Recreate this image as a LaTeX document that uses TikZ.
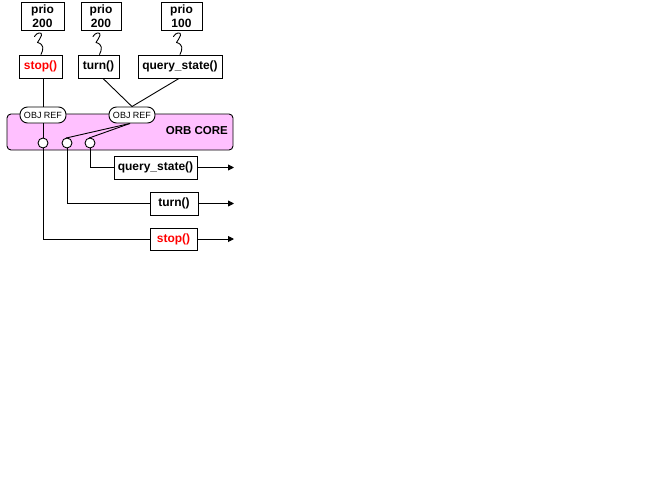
\documentclass[tikz,border=0pt]{standalone}
\usepackage{fontspec}
\setmainfont{Liberation Sans}
\usetikzlibrary{arrows.meta,calc}
\definecolor{orbpink}{RGB}{255,192,255}
\definecolor{callred}{RGB}{255,0,0}
\tikzset{
  base/.style={line width=0.9pt},
  box/.style={base,draw,fill=white,inner sep=0pt,font=\fontsize{12}{14}\selectfont\bfseries,align=center},
  prio/.style={box,minimum height=28pt},
  call/.style={box,minimum height=23pt},
  objref/.style={base,draw,fill=white,rounded corners=7.5pt,minimum width=46pt,minimum height=16pt,inner sep=0pt,font=\fontsize{9}{10}\selectfont},
  hole/.style={base,draw,fill=white,circle,minimum size=10pt,inner sep=0pt},
  wire/.style={base},
  outwire/.style={base,-{Triangle[length=6pt,width=6pt]}},
  squig/.style={base,line cap=round,line join=round},
}
\begin{document}
\begin{tikzpicture}[x=1pt,y=-1pt]
\useasboundingbox (0,0) rectangle (646,491);

% ORB core band
\node[base,draw,fill=orbpink,rounded corners=4pt,minimum width=226pt,minimum height=36pt,inner sep=0pt] (core) at (120,132) {};
\node[font=\fontsize{11.5}{13}\selectfont\bfseries,anchor=east,inner sep=0pt] (corelbl) at (228,131) {ORB CORE};

% priorities
\node[prio,minimum width=43pt] (p1) at (42.5,16) {prio\\200};
\node[prio,minimum width=40pt] (p2) at (101,16) {prio\\200};
\node[prio,minimum width=41pt] (p3) at (181.5,16) {prio\\100};

% client-side calls
\node[call,minimum width=43pt,text=callred] (m1) at (40.5,66.5) {stop()};
\node[call,minimum width=41pt] (m2) at (98.5,66.5) {turn()};
\node[call,minimum width=84pt] (m3) at (180,66.5) {query\_state()};

% squiggles linking priorities to calls
\foreach \p/\dx in {p1/0,p2/0,p3/0}{
  \draw[squig,shift={(\p.south)}] (-8,6)
     .. controls (-6,2) and (0,1) .. (-1,5)
     .. controls (-2,8) and (-4,10) .. (-5,12)
     .. controls (2,14) and (1,19) .. (-1.5,24);
}

% object references
\node[objref] (o1) at (43,115) {OBJ REF};
\node[objref] (o2) at (132,115) {OBJ REF};

% server-side endpoints
\node[hole] (c1) at (43,143) {};
\node[hole] (c2) at (67,143) {};
\node[hole] (c3) at (90,143) {};

% calls to references
\draw[wire] (m1.south -| o1.north) -- (o1.north);
\draw[wire] ($(m2.south)+(4.5,0)$) -- (o2.north);
\draw[wire] ($(m3.south)+(-1,0)$) -- (o2.north);
\draw[wire] (o1.south) -- (c1.north);
\draw[wire] ($(o2.south)+(-2,0)$) -- ($(c2.north)+(-1,0.5)$);
\draw[wire] ($(o2.south)+(-2,0)$) -- ($(c3.north)+(-1,0.5)$);

% dispatched requests
\node[call,minimum width=83pt] (q) at (155.5,167.5) {query\_state()};
\node[call,minimum width=48pt] (t) at (174,203.5) {turn()};
\node[call,minimum width=47pt,minimum height=22pt,text=callred] (s) at (173.5,239) {stop()};

\draw[wire] (c3.south) |- (q.west);
\draw[wire] (c2.south) |- (t.west);
\draw[wire] (c1.south) |- (s.west);

\coordinate (qe) at (234,167.5);
\coordinate (te) at (234,203.5);
\coordinate (se) at (234,239);
\draw[outwire] (q.east) -- (qe);
\draw[outwire] (t.east) -- (te);
\draw[outwire] (s.east) -- (se);
\end{tikzpicture}
\end{document}
